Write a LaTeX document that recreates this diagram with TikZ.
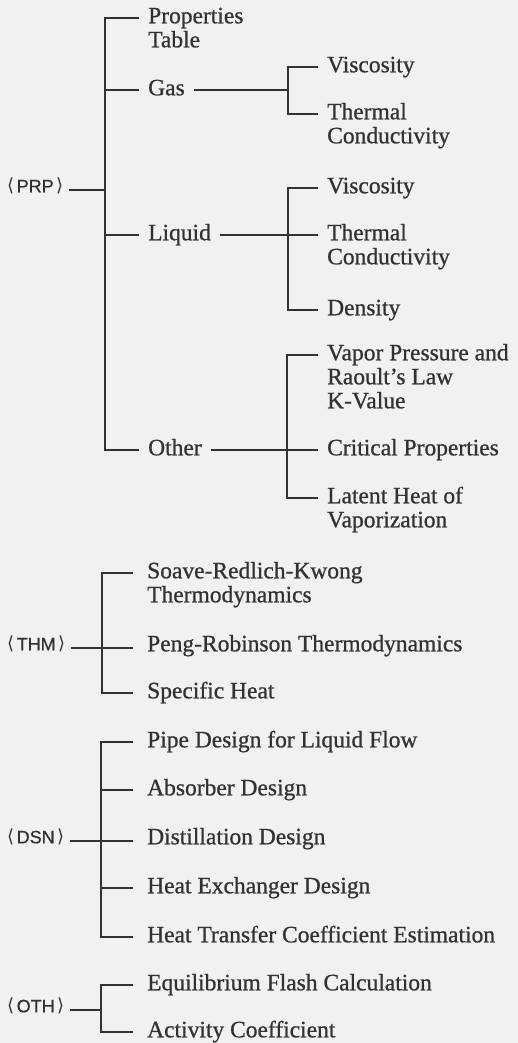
\documentclass[tikz,border=0pt]{standalone}
\usepackage{fontspec}
\setmainfont{Liberation Serif}[FakeBold=0.8]
\newfontfamily\lblfont{Liberation Sans}[FakeBold=0.6]
\newfontfamily\brkfont{DejaVu Sans}
\definecolor{ink}{RGB}{50,50,50}
\definecolor{paper}{RGB}{241,241,239}
\newcommand{\tag}[1]{{\brkfont\fontsize{18}{18}\selectfont\raisebox{0.5pt}{⟨}}\kern2.5pt #1\kern2.5pt{\brkfont\fontsize{18}{18}\selectfont\raisebox{0.5pt}{⟩}}}
\newcommand{\ml}[1]{\begin{tabular}[t]{@{}l@{}}#1\end{tabular}}
\begin{document}
\begin{tikzpicture}[x=1pt,y=-1pt,
  item/.style={anchor=mid west, inner xsep=9pt, inner ysep=0pt,
    font=\fontsize{23.5}{24}\selectfont, text=ink},
  itemb/.style={item, inner xsep=14pt},
  root/.style={anchor=mid west, inner xsep=6pt, inner ysep=0pt,
    font=\lblfont\fontsize{18}{20}\selectfont, text=ink},
  wire/.style={draw=ink, line width=1.2pt}]
\fill[paper] (0,0) rectangle (518,1043);
\useasboundingbox (0,0) rectangle (518,1043);

% ---------- PRP ----------
\node[root] (prp) at (1,190) {\tag{PRP}};
\coordinate (prpbar) at (105,0);
\node[item] (pt) at (139,21) {\ml{Properties\\Table}};
\node[item] (gas) at (139,93) {Gas};
\node[item] (liquid) at (139,238) {Liquid};
\node[item] (other) at (139,453) {Other};

\coordinate (gasbar) at (288,0);
\node[item] (gv) at (318,70) {Viscosity};
\node[item] (gtc) at (318,117) {\ml{Thermal\\Conductivity}};

\coordinate (liqbar) at (288,0);
\node[item] (lv) at (318,191) {Viscosity};
\node[item] (ltc) at (318,238) {\ml{Thermal\\Conductivity}};
\node[item] (ld) at (318,313) {Density};

\coordinate (otherbar) at (287,0);
\node[item] (vp) at (318,358) {\ml{Vapor Pressure and\\Raoult’s Law\\K-Value}};
\node[item] (cp) at (318,453) {Critical Properties};
\node[item] (lh) at (318,501) {\ml{Latent Heat of\\Vaporization}};

\draw[wire] ([yshift=3pt]pt.mid west) -- ([yshift=3pt]pt.mid west -| prpbar)
  -- ([yshift=3pt]other.mid west -| prpbar) -- ([yshift=3pt]other.mid west);
\draw[wire] ([yshift=3pt]gas.mid west) -- ([yshift=3pt]gas.mid west -| prpbar);
\draw[wire] ([yshift=3pt]liquid.mid west) -- ([yshift=3pt]liquid.mid west -| prpbar);
\draw[wire] (prp.mid east) -- (prp.mid east -| prpbar);

\draw[wire] ([yshift=3pt]gas.mid east) -- ([yshift=3pt]gas.mid east -| gasbar);
\draw[wire] ([yshift=3pt]gv.mid west) -- ([yshift=3pt]gv.mid west -| gasbar)
  -- ([yshift=3pt]gtc.mid west -| gasbar) -- ([yshift=3pt]gtc.mid west);

\draw[wire] ([yshift=3pt]liquid.mid east) -- ([yshift=3pt]ltc.mid west);
\draw[wire] ([yshift=3pt]lv.mid west) -- ([yshift=3pt]lv.mid west -| liqbar)
  -- ([yshift=3pt]ld.mid west -| liqbar) -- ([yshift=3pt]ld.mid west);

\draw[wire] ([yshift=3pt]other.mid east) -- ([yshift=3pt]cp.mid west);
\draw[wire] ([yshift=3pt]vp.mid west) -- ([yshift=3pt]vp.mid west -| otherbar)
  -- ([yshift=3pt]lh.mid west -| otherbar) -- ([yshift=3pt]lh.mid west);

% ---------- THM ----------
\node[root] (thm) at (1,648) {\tag{THM}};
\coordinate (thmbar) at (102,0);
\node[itemb] (srk) at (133,576) {\ml{Soave-Redlich-Kwong\\Thermodynamics}};
\node[itemb] (pr) at (133,649) {Peng-Robinson Thermodynamics};
\node[itemb] (sh) at (133,696) {Specific Heat};
\draw[wire] (thm.mid east) -- (thm.mid east -| pr.mid west);
\draw[wire] ([yshift=3pt]srk.mid west) -- ([yshift=3pt]srk.mid west -| thmbar)
  -- ([yshift=3pt]sh.mid west -| thmbar) -- ([yshift=3pt]sh.mid west);

% ---------- DSN ----------
\node[root] (dsn) at (1,841) {\tag{DSN}};
\coordinate (dsnbar) at (101,0);
\node[itemb] (pd) at (133,745) {Pipe Design for Liquid Flow};
\node[itemb] (ad) at (133,793) {Absorber Design};
\node[itemb] (dd) at (133,842) {Distillation Design};
\node[itemb] (hx) at (133,891) {Heat Exchanger Design};
\node[itemb] (htc) at (133,940) {Heat Transfer Coefficient Estimation};
\draw[wire] (dsn.mid east) -- (dsn.mid east -| dd.mid west);
\draw[wire] ([yshift=3pt]pd.mid west) -- ([yshift=3pt]pd.mid west -| dsnbar)
  -- ([yshift=3pt]htc.mid west -| dsnbar) -- ([yshift=3pt]htc.mid west);
\draw[wire] ([yshift=3pt]ad.mid west) -- ([yshift=3pt]ad.mid west -| dsnbar);
\draw[wire] ([yshift=3pt]hx.mid west) -- ([yshift=3pt]hx.mid west -| dsnbar);

% ---------- OTH ----------
\node[root] (oth) at (1,1010) {\tag{OTH}};
\coordinate (othbar) at (101,0);
\node[itemb] (efc) at (133,988) {Equilibrium Flash Calculation};
\node[itemb] (ac) at (133,1035) {Activity Coefficient};
\draw[wire] (oth.mid east) -- (oth.mid east -| othbar);
\draw[wire] ([yshift=3pt]efc.mid west) -- ([yshift=3pt]efc.mid west -| othbar)
  -- ([yshift=3pt]ac.mid west -| othbar) -- ([yshift=3pt]ac.mid west);
\end{tikzpicture}
\end{document}
